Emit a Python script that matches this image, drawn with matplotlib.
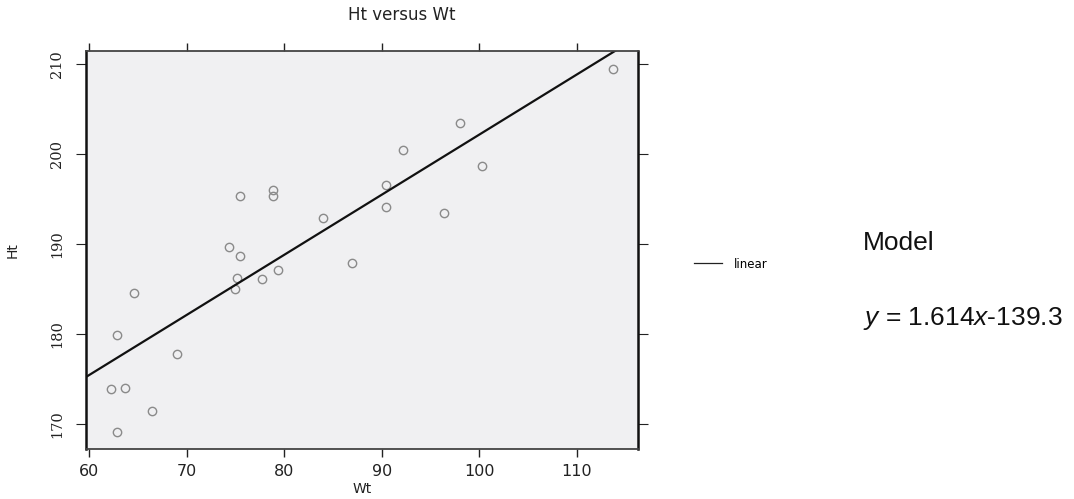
import matplotlib
matplotlib.use("Agg")
import matplotlib.pyplot as plt
from matplotlib.lines import Line2D
import numpy as np

plt.rcParams['mathtext.fontset'] = 'custom'
plt.rcParams['mathtext.rm'] = 'Liberation Sans'
plt.rcParams['mathtext.it'] = 'Liberation Sans:italic'

# Data
wt = [75.5, 78.9, 78.9, 84.0, 74.4, 75.5, 113.7, 98.0, 92.2, 100.3, 90.4, 90.4,
      96.4, 75.2, 75.0, 77.7, 79.4, 87.0, 64.6, 62.9, 69.0, 62.3, 63.7, 66.5, 62.9]
ht = [195.3, 196.0, 195.3, 192.9, 189.7, 188.7, 209.4, 203.4, 200.4, 198.7, 196.6, 194.1,
      193.5, 186.2, 185.0, 186.1, 187.1, 187.9, 184.6, 179.9, 177.8, 173.9, 174.0, 171.4, 169.1]
fit_slope = 0.668
fit_intercept = 135.35
x_ticks = [60, 70, 80, 90, 100, 110]
y_ticks = [170, 180, 190, 200, 210]

fig = plt.figure(figsize=(10.74, 4.99), dpi=100)
ax = fig.add_axes([86/1074, 50/499, (637.7-86)/1074, (449-50.7)/499])
ax.set_facecolor('#f0f0f2')

ax.plot(wt, ht, linestyle='none', marker='o', markersize=6, markerfacecolor='none',
        markeredgecolor='#8a8a8a', markeredgewidth=1.0)

xl = (59.69, 116.25)
yl = (167.22, 211.48)
xs = np.array(xl)
ax.plot(xs, fit_slope * xs + fit_intercept, color='#111111', lw=1.6)
ax.set_xlim(*xl)
ax.set_ylim(*yl)

ax.set_xticks(x_ticks, labels=[str(v) for v in x_ticks])
ax.set_yticks(y_ticks, labels=[str(v) for v in y_ticks], fontfamily='DejaVu Serif',
              rotation=90, va='center', fontsize=10.5)
ax.tick_params(axis='x', which='both', top=True, bottom=True, direction='out', length=6,
               width=1, labelsize=11.5, pad=5, colors='#222222')
ax.tick_params(axis='y', which='both', left=True, right=True, direction='out', length=7,
               width=0.8, pad=9, colors='#222222')

for s in ['left', 'right']:
    ax.spines[s].set_linewidth(1.8)
    ax.spines[s].set_color('#111111')
for s in ['top', 'bottom']:
    ax.spines[s].set_linewidth(1.3)
    ax.spines[s].set_color('#444444')

fig.text(402/1074, 1-15/499, 'Ht versus Wt', fontsize=12, ha='center', va='center',
         color='#222222')
ax.set_xlabel('Wt', fontsize=10, labelpad=2, color='#222222')
ax.set_ylabel('Ht', fontsize=10, labelpad=22, color='#222222')

fig.legend(handles=[Line2D([], [], color='#222222', lw=0.9)], labels=['linear'],
           loc='center left', bbox_to_anchor=(694/1074, 1-264/499), frameon=False,
           fontsize=8.5, handlelength=2.4, handletextpad=1.0, borderpad=0, borderaxespad=0)

fig.text(863/1074, 1-243/499, 'Model', fontsize=19, family='Liberation Sans',
         va='center', ha='left', color='#111111')
fig.text(863/1074, 1-318/499, r'$\mathit{y}$ = 1.614$\mathit{x}$-139.3', fontsize=19,
         family='Liberation Sans', va='center', ha='left', color='#111111')

fig.savefig('out.png', dpi=100, facecolor='white')
